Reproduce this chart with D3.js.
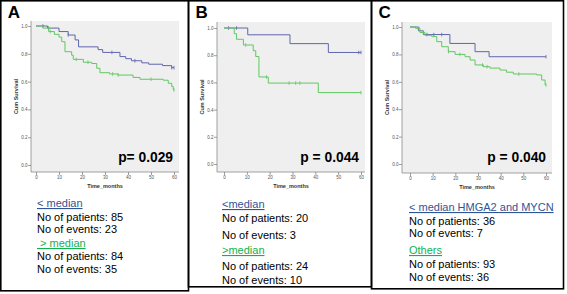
<!DOCTYPE html>
<html>
<head>
<meta charset="utf-8">
<script src="https://cdn.jsdelivr.net/npm/d3@7"></script>
<style>
  body { margin: 0; background: #fff; }
  svg { display: block; font-family: "Liberation Sans", Arial, sans-serif; }
</style>
</head>
<body>
<div id="chart"></div>
<script>
'use strict';

// shared axis values
const xTicks = [0, 10, 20, 30, 40, 50, 60];
const yTicks = [0, 0.2, 0.4, 0.6, 0.8, 1.0];

// panel A
const aLowT = [5, 10, 14, 17, 18.5, 27, 29, 36.5, 39, 41.5, 46, 49, 55, 59];
const aLowS = [0.985, 0.96, 0.935, 0.9, 0.85, 0.83, 0.81, 0.78, 0.765, 0.75, 0.735, 0.725, 0.715, 0.70];
const aLowCens = [3, 5.5, 14, 33, 43, 59, 60];
const aHighT = [3, 5.5, 8, 10, 11.2, 12.6, 15.5, 16.2, 20.6, 24.2, 26.4, 27.8, 32, 35.7, 42.2, 45.2, 55.3, 57.5, 59, 59.7];
const aHighS = [0.985, 0.96, 0.94, 0.92, 0.887, 0.815, 0.79, 0.76, 0.739, 0.73, 0.696, 0.664, 0.655, 0.647, 0.63, 0.617, 0.61, 0.588, 0.565, 0.54];
const aHighCens = [5.4, 6.2, 17.5, 22.6, 33.3, 35.7, 50, 60];
const aLegend = ['< median', 'No of patients: 85', 'No of events: 23', ' > median', 'No of patients: 84', 'No of events: 35'];

// panel B
const bLowT = [10.4, 28.9, 45.7];
const bLowS = [0.95, 0.885, 0.82];
const bLowCens = [2, 5.5, 59, 60];
const bHighT = [4.5, 5.5, 8.5, 12.8, 13.9, 15.3, 19.4, 41.3];
const bHighS = [0.958, 0.917, 0.875, 0.833, 0.79, 0.64, 0.595, 0.525];
const bHighCens = [9.5, 18.6, 28.5, 31.4, 33.2, 60];
const bLegend = ['<median', 'No of patients: 20', 'No of events: 3', '>median', 'No of patients: 24', 'No of events: 10'];

// panel C
const cLowT = [3.7, 5.9, 17.6, 28.7, 34.9];
const cLowS = [0.972, 0.945, 0.88, 0.82, 0.783];
const cLowCens = [7.5, 10.5, 14, 60];
const cHighT = [2.5, 4.4, 6.6, 9.6, 11.8, 14, 16.9, 19.9, 24.3, 26.5, 28.7, 32.4, 35.3, 39.7, 42.6, 45.6, 55.9, 58.1, 59.6];
const cHighS = [0.99, 0.96, 0.94, 0.93, 0.893, 0.856, 0.82, 0.80, 0.783, 0.759, 0.723, 0.71, 0.70, 0.686, 0.67, 0.657, 0.65, 0.613, 0.577];
const cHighCens = [4, 6, 17, 22, 32, 34, 48, 60];
const cLegend = ['< median HMGA2 and MYCN', 'No of patients: 36', 'No of events: 7', 'Others', 'No of patients: 93', 'No of events: 36'];

const pValues = ['p= 0.029', 'p = 0.044', 'p = 0.040'];
const panelNames = ['A', 'B', 'C'];

const blue = '#5f66ad';
const green = '#62c762';
const legendBlue = '#2f5597';
const legendGreen = '#12b050';

const svg = d3.select('#chart')
  .append('svg')
    .attr('width', 567)
    .attr('height', 294);

function survAt(T, S, t) {
  let s = 1;
  T.forEach((d, i) => { if (d <= t) s = S[i]; });
  return s;
}

function drawPanel(p) {
  const g = svg.append('g');

  // frame of the panel
  g.append('rect')
      .attr('x', p.box[0]).attr('y', p.box[1])
      .attr('width', p.box[2]).attr('height', p.box[3])
      .attr('fill', 'none')
      .attr('stroke', '#000')
      .attr('stroke-width', 1.6);

  g.append('text')
      .attr('x', p.box[0] + 7)
      .attr('y', 18)
      .attr('font-size', 17)
      .attr('font-weight', 'bold')
      .text(p.name);

  const x = d3.scaleLinear().domain([0, 60]).range(p.xr);
  const y = d3.scaleLinear().domain([0, 1]).range(p.yr);

  g.append('rect')
      .attr('x', p.plot[0]).attr('y', p.plot[1])
      .attr('width', p.plot[2] - p.plot[0]).attr('height', p.plot[3] - p.plot[1])
      .attr('fill', '#efefef');

  g.append('path')
      .attr('d', `M${p.plot[0]},${p.plot[1]}V${p.plot[3]}H${p.plot[2]}`)
      .attr('fill', 'none')
      .attr('stroke', '#8a8a8a')
      .attr('stroke-width', 0.8);

  const yAxis = g.append('g')
      .attr('transform', `translate(${p.plot[0]},0)`)
      .call(d3.axisLeft(y).tickValues(yTicks).tickSize(3).tickFormat(d3.format('.1f')));
  const xAxis = g.append('g')
      .attr('transform', `translate(0,${p.plot[3]})`)
      .call(d3.axisBottom(x).tickValues(xTicks).tickSize(3).tickPadding(1));
  [yAxis, xAxis].forEach(a => {
    a.select('.domain').remove();
    a.selectAll('line').attr('stroke', '#777').attr('stroke-width', 0.7);
    a.selectAll('text').attr('font-size', 4.5).attr('fill', '#555').attr('font-family', 'Liberation Sans');
  });
  yAxis.selectAll('text').attr('x', -3.5);

  g.append('text')
      .attr('transform', `translate(${p.plot[0] - 13},${(p.plot[1] + p.plot[3]) / 2}) rotate(-90)`)
      .attr('text-anchor', 'middle')
      .attr('font-size', 5.5)
      .attr('font-weight', 'bold')
      .attr('fill', '#333')
      .text('Cum Survival');

  g.append('text')
      .attr('x', (p.plot[0] + p.plot[2]) / 2)
      .attr('y', p.plot[3] + 16)
      .attr('text-anchor', 'middle')
      .attr('font-size', 5.5)
      .attr('font-weight', 'bold')
      .attr('fill', '#333')
      .text('Time_months');

  const line = d3.line()
      .x(d => x(d[0]))
      .y(d => y(d[1]))
      .curve(d3.curveStepAfter);

  p.series.forEach(s => {
    const pts = [[0, 1]].concat(s.T.map((t, i) => [t, s.S[i]]));
    pts.push([60, s.S[s.S.length - 1]]);
    g.append('path')
        .attr('d', line(pts))
        .attr('fill', 'none')
        .attr('stroke', s.color)
        .attr('stroke-width', 1);

    g.selectAll(null)
      .data(s.cens)
      .join('line')
        .attr('x1', d => x(d)).attr('x2', d => x(d))
        .attr('y1', d => y(survAt(s.T, s.S, d)) - 1.8)
        .attr('y2', d => y(survAt(s.T, s.S, d)) + 1.8)
        .attr('stroke', s.color)
        .attr('stroke-width', 0.8);
  });

  g.append('text')
      .attr('x', p.plot[2] - 6)
      .attr('y', 162)
      .attr('text-anchor', 'end')
      .attr('font-size', 13.8)
      .attr('font-weight', 'bold')
      .attr('fill', '#000')
      .text(p.pValue);

  p.legend.forEach((t, i) => {
    const colored = i === 0 || i === 3;
    g.append('text')
        .attr('x', p.legX)
        .attr('y', p.legY[i])
        .attr('font-size', 11)
        .attr('fill', i === 0 ? legendBlue : i === 3 ? legendGreen : '#000')
        .attr('text-decoration', colored ? 'underline' : null)
        .style('white-space', 'pre')
        .text(t);
  });
}

drawPanel({
  name: panelNames[0], pValue: pValues[0], legend: aLegend,
  box: [0.8, 0.8, 187.7, 290],
  plot: [31, 21, 179, 172], xr: [36, 174], yr: [165, 26],
  legX: 37, legY: [207, 221, 233, 247, 260, 273],
  series: [
    { T: aLowT, S: aLowS, cens: aLowCens, color: blue },
    { T: aHighT, S: aHighS, cens: aHighCens, color: green }
  ]
});

drawPanel({
  name: panelNames[1], pValue: pValues[1], legend: bLegend,
  box: [188.5, 0.8, 183, 286],
  plot: [217, 22, 365, 172], xr: [224, 361], yr: [164, 28],
  legX: 222, legY: [208, 222, 239, 254, 270, 284],
  series: [
    { T: bLowT, S: bLowS, cens: bLowCens, color: blue },
    { T: bHighT, S: bHighS, cens: bHighCens, color: green }
  ]
});

drawPanel({
  name: panelNames[2], pValue: pValues[2], legend: cLegend,
  box: [371.5, 0.8, 192, 288],
  plot: [402, 22, 552, 173], xr: [410, 546], yr: [164, 27],
  legX: 409, legY: [211, 225, 237, 254, 268, 281],
  series: [
    { T: cLowT, S: cLowS, cens: cLowCens, color: blue },
    { T: cHighT, S: cHighS, cens: cHighCens, color: green }
  ]
});
</script>
</body>
</html>
